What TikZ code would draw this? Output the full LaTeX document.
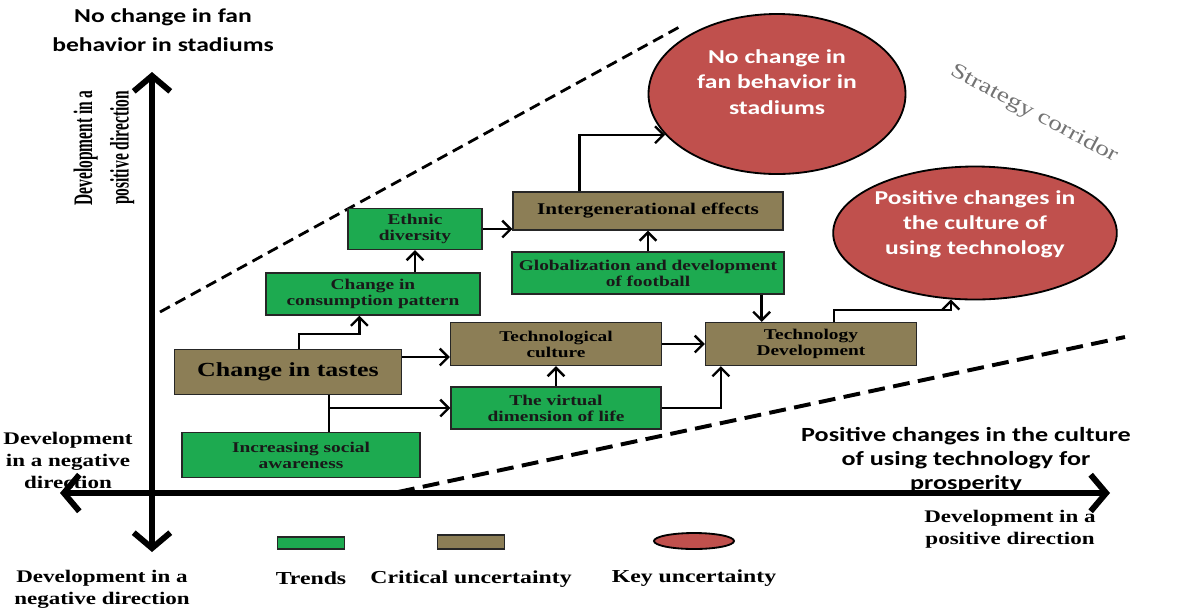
\documentclass[tikz,border=0pt]{standalone}
\usepackage{fontspec}
\setmainfont[FakeStretch=1.3]{Liberation Serif}
\newfontfamily\calfont[FakeStretch=1.3]{Carlito}
\newfontfamily\tallfont[FakeStretch=0.58]{Liberation Serif}
\usetikzlibrary{arrows.meta,calc,shapes.geometric}
\definecolor{trendgreen}{HTML}{1DAA50}
\definecolor{critbrown}{HTML}{8C7E56}
\definecolor{keyred}{HTML}{C0504D}
\tikzset{
  box/.style={draw=black!85,line width=0.9pt,align=center,inner sep=0pt,
    font=\bfseries\fontsize{10.6}{11.5}\selectfont},
  trend/.style={box,fill=trendgreen,text=black!90},
  crit/.style={box,fill=critbrown,text=black},
  keyunc/.style={ellipse,draw=black,line width=1.3pt,fill=keyred,text=white,
    inner sep=0pt,align=center,font=\calfont\bfseries\fontsize{14}{18}\selectfont},
  size/.style 2 args={minimum width=#1*0.025cm,minimum height=#2*0.025cm},
  link/.style={line width=1.7pt,-{Straight Barb[length=6pt,width=12pt]}},
  axis/.style={line width=4.2pt,
    {Straight Barb[length=11pt,width=26pt]}-{Straight Barb[length=11pt,width=26pt]}},
  corridor/.style={line width=2pt,dash pattern=on 8pt off 4.5pt},
  axislabel/.style={align=center,font=\bfseries\fontsize{12.6}{15.6}\selectfont},
  endlabel/.style={align=center,font=\calfont\bfseries\fontsize{14.3}{17}\selectfont}
}
\begin{document}
\begin{tikzpicture}[x=0.025cm,y=-0.025cm]
\useasboundingbox (0,0) rectangle (1185,608);
% strategy corridor
\coordinate (up1) at (160,312);
\coordinate (up2) at (683,25);
\coordinate (lo1) at (398,492);
\coordinate (lo2) at (1125,337);
\draw[corridor] (up1) -- (up2);
\draw[corridor,line width=2.8pt,dash pattern=on 12pt off 6pt] (lo1) -- (lo2);
\node[rotate=-28,text=black!55,font=\fontsize{15}{18}\selectfont] (corr) at (1034,114) {Strategy corridor};

% axes
\coordinate (vbot) at (152,552);
\coordinate (vtop) at (152,72);
\coordinate (hleft) at (60,493);
\coordinate (hright) at (1110,493);
\draw[axis] (vbot) -- (vtop);
\draw[axis] (hleft) -- (hright);
\node[endlabel,font=\calfont\bfseries\fontsize{14}{21}\selectfont] (toplab) at (163,30) {No change in fan\\behavior in stadiums};
\node[rotate=90,align=center,font=\tallfont\bfseries\fontsize{19}{26}\selectfont] (poslab) at (104,148) {Development in a\\positive direction};
\node[axislabel] (leftlab) at (68,460) {Development\\in a negative\\direction};
\node[axislabel] (botlab) at (102,589) {Development in a\\negative direction};
\node[axislabel] (rightlab) at (1010,529) {Development in a\\positive direction};
\node[endlabel] (prosper) at (966,460) {Positive changes in the culture\\of using technology for\\prosperity};

% trends and uncertainties
\node[crit,size={227}{45},font=\bfseries\fontsize{14.2}{16}\selectfont] (tastes) at (288,372) {Change in tastes};
\node[trend,size={238}{45}] (aware) at (301,455) {Increasing social\\awareness};
\node[trend,size={214}{42}] (consum) at (373,294) {Change in\\consumption pattern};
\node[trend,size={134}{41}] (ethnic) at (415,229) {Ethnic\\diversity};
\node[crit,size={270}{38},font=\bfseries\fontsize{11.6}{12.5}\selectfont] (inter) at (648,211) {Intergenerational effects};
\node[trend,size={272}{42}] (global) at (648,273) {Globalization and development\\of football};
\node[crit,size={211}{43}] (techcul) at (556,344) {Technological\\culture};
\node[trend,size={210}{42}] (virtual) at (556,408) {The virtual\\dimension of life};
\node[crit,size={211}{43}] (techdev) at (811,344) {Technology\\Development};
\node[keyunc,size={257}{160},text depth=17pt] (nochange) at (777,94) {No change in\\fan behavior in\\stadiums};
\node[keyunc,size={280}{133},text depth=15pt] (positive) at (975,233) {Positive changes in\\the culture of\\using technology};

% connections
\draw[link] ($(tastes.north west)+(125,0)$) -- ++(0,-15) -| ($(consum.south west)+(94,0)$);
\coordinate (t1) at ($(tastes.east)+(0,-15)$);
\draw[link] (t1) -- (t1 -| techcul.west);
\coordinate (t2) at ($(tastes.south)+(41,0)$);
\draw[line width=1.7pt] (t2) -- (t2 |- aware.north);
\draw[link] (t2 |- virtual.west) -- (virtual.west);
\draw[link] (consum.north -| ethnic.south) -- (ethnic.south);
\draw[link] (ethnic.east) -- (ethnic.east -| inter.west);
\draw[link] (global.north) -- (inter.south);
\draw[link] ($(inter.north west)+(67,0)$) |- (nochange.200);
\coordinate (g1) at ($(global.south east)+(-23,0)$);
\draw[link] (g1) -- (g1 |- techdev.north);
\draw[link] (techcul.east) -- (techdev.west);
\draw[link] (virtual.north) -- (techcul.south);
\draw[link] (virtual.east) -| ($(techdev.south west)+(16,0)$);
\coordinate (d1) at ($(techdev.north west)+(129,-12)$);
\draw[link] (d1 |- techdev.north) -- (d1) -| (positive.250);

% legend
\node[trend,size={67}{12},label={[font=\bfseries\fontsize{13}{15}\selectfont,label distance=0.42cm]below:Trends}] (legtrend) at (311,543) {};
\node[crit,size={67}{14},label={[font=\bfseries\fontsize{13}{15}\selectfont,label distance=0.4cm]below:Critical uncertainty}] (legcrit) at (471,542) {};
\node[keyunc,size={80}{16},label={[font=\bfseries\fontsize{13}{15}\selectfont,label distance=0.38cm]below:Key uncertainty}] (legkey) at (694,541) {};
\end{tikzpicture}
\end{document}
